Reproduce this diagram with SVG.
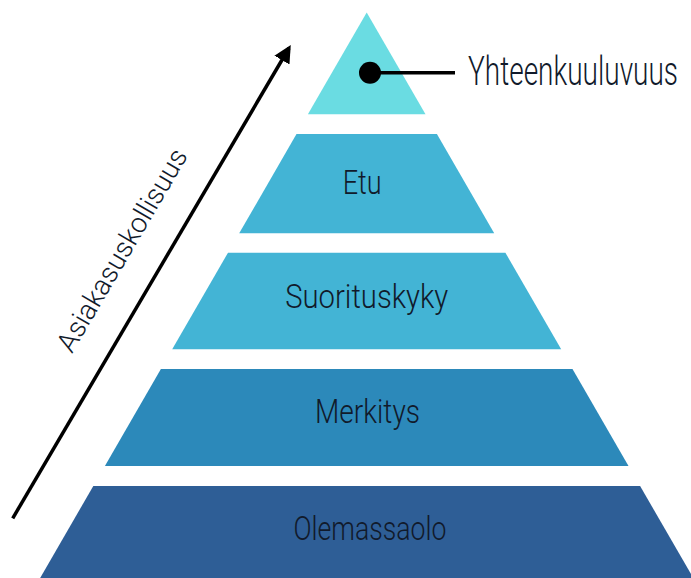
<svg xmlns="http://www.w3.org/2000/svg" width="691" height="578" viewBox="0 0 691 578">
  <style>
    .lbl { font-family: Roboto, "Liberation Sans", sans-serif; font-size: 33px; font-weight: 300; fill: #111a2b; text-anchor: middle; }
    .side { font-family: Roboto, "Liberation Sans", sans-serif; font-weight: 300; fill: #111a2b; }
    .ln { stroke: #000; stroke-width: 3.5; fill: none; }
  </style>
  <defs>
    <marker id="ah" viewBox="0 0 10 10" refX="8" refY="5" markerWidth="5" markerHeight="5" orient="auto" markerUnits="strokeWidth">
      <path d="M0,0 L10,5 L0,10 Z" fill="#000"/>
    </marker>
  </defs>
  <rect width="691" height="578" fill="#fff"/>

  <g id="yhteenkuuluvuus">
    <polygon points="366.7,12.5 425.5,114.3 307.9,114.3" fill="#6ADCE2"/>
    <text class="side" font-size="40" transform="translate(468,85) scale(0.70,1)">Yhteenkuuluvuus</text>
  </g>

  <g id="etu">
    <polygon points="296.5,134 436.9,134 494.2,233.3 239.2,233.3" fill="#43B4D5"/>
    <text class="lbl" x="362.2" y="194" textLength="39" lengthAdjust="spacingAndGlyphs">Etu</text>
  </g>

  <g id="suorituskyky">
    <polygon points="228,252.7 505.4,252.7 561.2,349.3 172.2,349.3" fill="#43B4D5"/>
    <text class="lbl" x="366.7" y="308.3" textLength="163" lengthAdjust="spacingAndGlyphs">Suorituskyky</text>
  </g>

  <g id="merkitys">
    <polygon points="160.9,369 572.5,369 628.5,466 104.9,466" fill="#2C89BA"/>
    <text class="lbl" x="367.5" y="423.3" textLength="105" lengthAdjust="spacingAndGlyphs">Merkitys</text>
  </g>

  <g id="olemassaolo">
    <polygon points="93.3,486 640.1,486 694.4,580 39,580" fill="#2E5E96"/>
    <text class="lbl" x="370" y="540" textLength="153" lengthAdjust="spacingAndGlyphs">Olemassaolo</text>
  </g>

  <g id="asiakasuskollisuus">
    <text class="side" font-size="28" transform="translate(72,354) rotate(-59.6)" textLength="230" lengthAdjust="spacingAndGlyphs">Asiakasuskollisuus</text>
  </g>

  <g id="connectors">
    <line class="ln" x1="12.7" y1="518.3" x2="289" y2="48" stroke-width="3" marker-end="url(#ah)"/>
    <line class="ln" x1="370" y1="72.7" x2="455" y2="72.7"/>
    <circle cx="370" cy="72.7" r="11" fill="#000"/>
  </g>
</svg>
